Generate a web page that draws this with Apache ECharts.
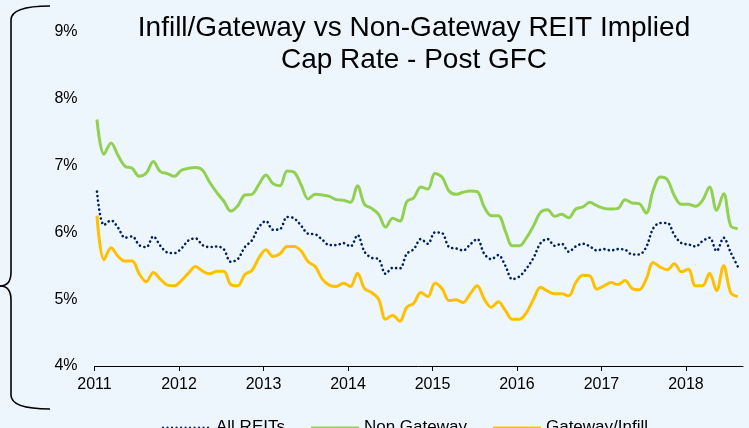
<!DOCTYPE html>
<html>
<head>
<meta charset="utf-8">
<script src="https://cdn.jsdelivr.net/npm/echarts@6/dist/echarts.min.js"></script>
<style>
  html, body { margin: 0; padding: 0; background: #EEF6FD; }
  #chart { width: 749px; height: 428px; }
</style>
</head>
<body>
<div id="chart"></div>
<script>
// monthly readings, Jan 2011 .. Aug 2018 (cap rate, %)
const startYear = 2011;
const allReits = [
  6.61, 6.11, 6.18, 6.07, 5.92, 5.94, 5.81, 5.78, 5.94, 5.80, 5.70, 5.69,
  5.76, 5.88, 5.91, 5.81, 5.78, 5.79, 5.75, 5.56, 5.60, 5.78, 5.88, 6.08,
  6.17, 6.04, 6.05, 6.23, 6.21, 6.10, 5.98, 5.97, 5.89, 5.81, 5.81, 5.84,
  5.79, 5.96, 5.71, 5.62, 5.60, 5.38, 5.47, 5.46, 5.68, 5.75, 5.90, 5.83,
  6.00, 5.99, 5.78, 5.76, 5.73, 5.82, 5.90, 5.68, 5.60, 5.66, 5.50, 5.30,
  5.34, 5.46, 5.62, 5.84, 5.90, 5.80, 5.83, 5.71, 5.79, 5.83, 5.79, 5.73,
  5.75, 5.73, 5.75, 5.74, 5.67, 5.67, 5.78, 6.06, 6.14, 6.14, 5.96, 5.84,
  5.82, 5.79, 5.87, 5.92, 5.72, 5.92, 5.70, 5.49
];
const nonGateway = [
  7.69, 7.17, 7.34, 7.15, 6.99, 6.96, 6.84, 6.89, 7.06, 6.91, 6.88, 6.84,
  6.93, 6.96, 6.97, 6.93, 6.75, 6.60, 6.47, 6.32, 6.40, 6.56, 6.57, 6.72,
  6.86, 6.73, 6.70, 6.92, 6.90, 6.71, 6.50, 6.57, 6.56, 6.54, 6.49, 6.48,
  6.45, 6.70, 6.42, 6.36, 6.27, 6.08, 6.21, 6.17, 6.46, 6.52, 6.68, 6.65,
  6.88, 6.83, 6.62, 6.57, 6.60, 6.62, 6.61, 6.38, 6.25, 6.25, 6.02, 5.80,
  5.80, 5.92, 6.10, 6.30, 6.34, 6.24, 6.27, 6.22, 6.35, 6.38, 6.45, 6.40,
  6.36, 6.35, 6.36, 6.49, 6.44, 6.43, 6.29, 6.63, 6.83, 6.79, 6.55, 6.42,
  6.42, 6.39, 6.48, 6.68, 6.33, 6.58, 6.10, 6.06
];
const gatewayInfill = [
  6.25, 5.59, 5.77, 5.64, 5.57, 5.57, 5.38, 5.26, 5.40, 5.30, 5.21, 5.20,
  5.28, 5.39, 5.49, 5.42, 5.38, 5.42, 5.42, 5.22, 5.20, 5.37, 5.43, 5.62,
  5.74, 5.64, 5.68, 5.79, 5.79, 5.72, 5.56, 5.49, 5.30, 5.21, 5.19, 5.24,
  5.19, 5.39, 5.16, 5.10, 5.00, 4.70, 4.76, 4.67, 4.88, 4.94, 5.10, 5.04,
  5.24, 5.16, 4.98, 4.99, 4.95, 5.08, 5.20, 5.00, 4.88, 4.96, 4.83, 4.70,
  4.70, 4.80, 5.00, 5.18, 5.12, 5.08, 5.08, 5.05, 5.25, 5.36, 5.35, 5.15,
  5.20, 5.25, 5.22, 5.28, 5.16, 5.14, 5.30, 5.55, 5.48, 5.44, 5.53, 5.41,
  5.45, 5.20, 5.20, 5.39, 5.13, 5.50, 5.10, 5.04
];
const yearTicks = [2011, 2012, 2013, 2014, 2015, 2016, 2017, 2018];
const pctTicks = [4, 5, 6, 7, 8, 9];

// decimal-year position of each monthly point
const months = allReits.map((_, i) => startYear + (i + 0.35) / 12);
const pair = arr => arr.map((v, i) => [months[i], v]);

const chart = echarts.init(document.getElementById('chart'), null, { renderer: 'canvas' });
const font = 'Liberation Sans, Arial, sans-serif';
const brace = { stroke: '#000', lineWidth: 1.6, fill: 'none' };

const option = {
  backgroundColor: '#EEF6FD',
  animation: false,
  grid: { left: 94.5, right: 6, top: 32, bottom: 62 },
  xAxis: {
    type: 'value',
    min: 2011,
    max: 2018.675,
    interval: 1,
    axisLine: { lineStyle: { color: '#000', width: 1 } },
    axisTick: { show: true, length: 5, lineStyle: { color: '#000' } },
    splitLine: { show: false },
    axisLabel: {
      margin: 11,
      fontSize: 16,
      color: '#000',
      fontFamily: font,
      showMaxLabel: false,
      formatter: v => (yearTicks.indexOf(v) >= 0 ? String(v) : '')
    }
  },
  yAxis: {
    type: 'value',
    min: pctTicks[0],
    max: pctTicks[pctTicks.length - 1],
    interval: 1,
    axisLine: { show: false },
    axisTick: { show: false },
    splitLine: { show: false },
    axisLabel: {
      margin: 17,
      fontSize: 16,
      color: '#000',
      fontFamily: font,
      formatter: v => v + '%'
    }
  },
  legend: {
    left: 157,
    top: 414,
    itemWidth: 48,
    itemHeight: 14,
    itemGap: 25,
    itemStyle: { opacity: 0 },
    textStyle: { fontSize: 17, color: '#000', fontFamily: font },
    data: ['All REITs', 'Non Gateway', 'Gateway/Infill']
  },
  graphic: [
    {
      type: 'text',
      x: 414,
      y: 12,
      style: {
        text: 'Infill/Gateway vs Non-Gateway REIT Implied\nCap Rate - Post GFC',
        align: 'center',
        fontSize: 28,
        lineHeight: 32,
        fontFamily: font,
        fill: '#000'
      }
    },
    // curly brace on the left edge
    { type: 'bezierCurve', shape: { x1: 50, y1: 6, cpx1: 11, cpy1: 6, x2: 11, y2: 20 }, style: brace },
    { type: 'line', shape: { x1: 11, y1: 20, x2: 11, y2: 272 }, style: brace },
    { type: 'bezierCurve', shape: { x1: 11, y1: 272, cpx1: 11, cpy1: 286, x2: 0, y2: 286 }, style: brace },
    { type: 'bezierCurve', shape: { x1: 0, y1: 286, cpx1: 11, cpy1: 286, x2: 11, y2: 300 }, style: brace },
    { type: 'line', shape: { x1: 11, y1: 300, x2: 11, y2: 395 }, style: brace },
    { type: 'bezierCurve', shape: { x1: 11, y1: 395, cpx1: 11, cpy1: 409, x2: 50, y2: 409 }, style: brace }
  ],
  series: [
    {
      name: 'All REITs',
      type: 'line',
      data: pair(allReits),
      symbol: 'none',
      smooth: 0.35,
      z: 3,
      lineStyle: { color: '#002060', width: 2.6, type: [0.1, 4.4], cap: 'round' },
      itemStyle: { color: '#002060' }
    },
    {
      name: 'Non Gateway',
      type: 'line',
      data: pair(nonGateway),
      symbol: 'none',
      smooth: 0.35,
      lineStyle: { color: '#92D050', width: 3 },
      itemStyle: { color: '#92D050' }
    },
    {
      name: 'Gateway/Infill',
      type: 'line',
      data: pair(gatewayInfill),
      symbol: 'none',
      smooth: 0.35,
      lineStyle: { color: '#FFC000', width: 3 },
      itemStyle: { color: '#FFC000' }
    }
  ]
};

chart.setOption(option);
</script>
</body>
</html>
